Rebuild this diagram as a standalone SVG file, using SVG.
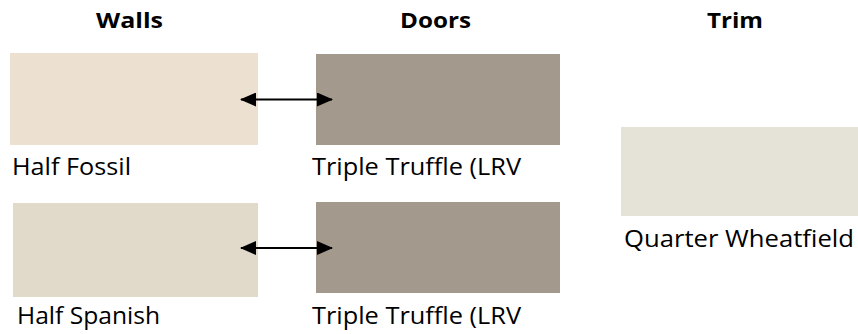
<svg xmlns="http://www.w3.org/2000/svg" width="858" height="334" viewBox="0 0 858 334">
<style>
.t{font-family:"Open Sans","Liberation Sans",sans-serif;font-size:24px;fill:#000}
.h{font-family:"Open Sans","Liberation Sans",sans-serif;font-size:22px;font-weight:bold;fill:#000}
.c{stroke:#000;stroke-width:2;fill:none}
</style>
<defs>
<marker id="ah" viewBox="0 0 16 14" refX="15" refY="7" markerWidth="16" markerHeight="14" markerUnits="userSpaceOnUse" orient="auto-start-reverse">
<path d="M0,0 L16,7 L0,14 Z" fill="#000"/>
</marker>
</defs>
<rect width="858" height="334" fill="#fff"/>
<g id="headers">
<text class="h" x="96" y="28" textLength="67" lengthAdjust="spacingAndGlyphs">Walls</text>
<text class="h" x="400" y="28" textLength="71" lengthAdjust="spacingAndGlyphs">Doors</text>
<text class="h" x="707" y="28" textLength="56" lengthAdjust="spacingAndGlyphs">Trim</text>
</g>
<g id="half-fossil">
<rect x="10" y="53" width="248" height="92" fill="#ECE0D1"/>
<text class="t" x="12" y="175" textLength="119" lengthAdjust="spacingAndGlyphs">Half Fossil</text>
</g>
<g id="triple-truffle-1">
<rect x="316" y="54" width="244" height="91" fill="#A39A8D"/>
<text class="t" x="312" y="175" textLength="209" lengthAdjust="spacingAndGlyphs">Triple Truffle (LRV</text>
</g>
<g id="half-spanish">
<rect x="13" y="203" width="245" height="94" fill="#E1DACB"/>
<text class="t" x="17" y="324" textLength="143" lengthAdjust="spacingAndGlyphs">Half Spanish</text>
</g>
<g id="triple-truffle-2">
<rect x="316" y="202" width="244" height="91" fill="#A39A8D"/>
<text class="t" x="312" y="324" textLength="209" lengthAdjust="spacingAndGlyphs">Triple Truffle (LRV</text>
</g>
<g id="quarter-wheatfield">
<rect x="621" y="127" width="237" height="89" fill="#E5E3D7"/>
<text class="t" x="624" y="247" textLength="230" lengthAdjust="spacingAndGlyphs">Quarter Wheatfield</text>
</g>
<g id="connectors">
<line class="c" x1="241" y1="99.5" x2="332" y2="99.5" marker-start="url(#ah)" marker-end="url(#ah)"/>
<line class="c" x1="241" y1="248" x2="332" y2="248" marker-start="url(#ah)" marker-end="url(#ah)"/>
</g>
</svg>
